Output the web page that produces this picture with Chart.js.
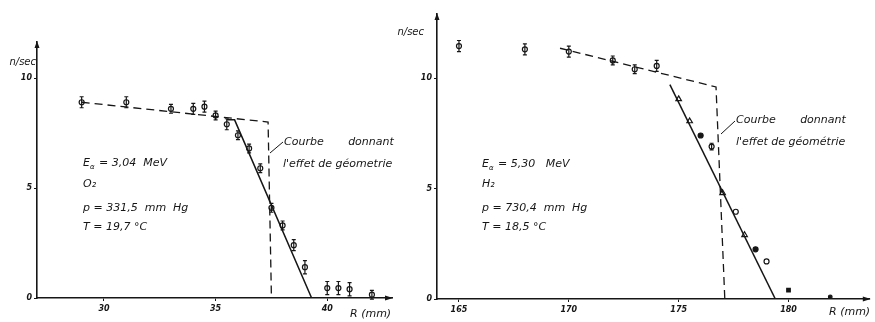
<!DOCTYPE html>
<html>
<head>
<meta charset="utf-8">
<script src="https://cdn.jsdelivr.net/npm/chart.js@4"></script>
<style>
  html, body { margin:0; padding:0; background:#fff; }
  #wrap { position:relative; width:875px; height:322px; background:#fff; }
  #wrap canvas { position:absolute; left:0; top:0; }
</style>
</head>
<body>
<div id="wrap">
  <canvas id="left" width="875" height="322"></canvas>
  <canvas id="right" width="875" height="322"></canvas>
</div>
<script>
// left panel : O2, 3,04 MeV
const leftX   = [29, 31, 33, 34, 34.5, 35, 35.5, 36, 36.5, 37, 37.5, 38, 38.5, 39, 40, 40.5, 41, 42];
const leftY   = [8.9, 8.9, 8.6, 8.6, 8.7, 8.3, 7.9, 7.4, 6.8, 5.9, 4.1, 3.3, 2.4, 1.4, 0.45, 0.45, 0.4, 0.15];
const leftErr = [0.25, 0.25, 0.2, 0.25, 0.25, 0.2, 0.25, 0.2, 0.2, 0.2, 0.2, 0.2, 0.25, 0.3, 0.3, 0.3, 0.3, 0.2];
const leftDashX = [29, 37.35, 37.5];
const leftDashY = [8.9, 8.0, 0];
const leftFitX = [35.5, 35.85, 39.3];
const leftFitY = [8.1, 8.1, 0];
const leftXTicks = [30, 35, 40];
const leftYTicks = [0, 5, 10];

// right panel : H2, 5,30 MeV
const rightErrX = [165, 168, 170, 172, 173, 174, 176.5];
const rightErrY = [11.45, 11.3, 11.2, 10.8, 10.4, 10.55, 6.9];
const rightErr  = [0.25, 0.25, 0.25, 0.2, 0.2, 0.25, 0.15];
const rightTriX = [175, 175.5, 177, 178];
const rightTriY = [9.05, 8.05, 4.8, 2.9];
const rightDotX = [176, 178.5];
const rightDotY = [7.4, 2.25];
const rightCircX = [177.6, 179];
const rightCircY = [3.95, 1.7];
const rightSqX = [180];
const rightSqY = [0.4];
const rightSmallX = [181.9];
const rightSmallY = [0.1];
const rightDashX = [169.6, 176.7, 177.1];
const rightDashY = [11.35, 9.6, 0];
const rightFitX = [174.6, 179.4];
const rightFitY = [9.7, 0];
const rightXTicks = [165, 170, 175, 180];
const rightYTicks = [0, 5, 10];

const ink = '#161616';
const pts = (xs, ys) => xs.map((x,i)=>({x:x, y:ys[i]}));

const errorBars = {
  id:'errorBars',
  afterDatasetsDraw(chart) {
    const ctx = chart.ctx, ys = chart.scales.y;
    chart.data.datasets.forEach((ds, di) => {
      if (!ds.err) return;
      const meta = chart.getDatasetMeta(di);
      ctx.save();
      ctx.strokeStyle = ink; ctx.lineWidth = 1.2;
      meta.data.forEach((p, i) => {
        const v = ds.data[i].y, e = ds.err[i];
        const top = ys.getPixelForValue(v+e), bot = ys.getPixelForValue(v-e);
        ctx.beginPath();
        ctx.moveTo(p.x, top); ctx.lineTo(p.x, bot);
        ctx.moveTo(p.x-2, top); ctx.lineTo(p.x+2, top);
        ctx.moveTo(p.x-2, bot); ctx.lineTo(p.x+2, bot);
        ctx.stroke();
      });
      ctx.restore();
    });
  }
};

const notes = {
  id:'notes',
  afterDraw(chart, args, opts) {
    const ctx = chart.ctx, a = chart.chartArea;
    ctx.save();
    ctx.fillStyle = ink; ctx.strokeStyle = ink; ctx.lineWidth = 1.3;
    // arrows on axes
    ctx.beginPath();
    ctx.moveTo(a.left-2.5, a.top+6); ctx.lineTo(a.left, a.top-1); ctx.lineTo(a.left+2.5, a.top+6); ctx.closePath();
    ctx.fill();
    ctx.beginPath();
    ctx.moveTo(a.right-7, a.bottom-2.5); ctx.lineTo(a.right+1, a.bottom); ctx.lineTo(a.right-7, a.bottom+2.5); ctx.closePath();
    ctx.fill();
    ctx.textBaseline = 'middle';
    (opts.lines || []).forEach(l => {
      ctx.font = 'italic ' + (l.size || 11) + 'px "DejaVu Sans"';
      ctx.textAlign = l.align || 'left';
      let x = l.x;
      ctx.fillText(l.text, x, l.y);
      if (l.sub) {
        const w = ctx.measureText(l.text).width;
        ctx.font = 'italic 7px "DejaVu Sans"';
        ctx.fillText(l.sub, x + w, l.y + 4);
        const ws = ctx.measureText(l.sub).width;
        ctx.font = 'italic ' + (l.size || 11) + 'px "DejaVu Sans"';
        ctx.fillText(l.rest, x + w + ws + 1, l.y);
      }
    });
    (opts.leaders || []).forEach(s => {
      ctx.lineWidth = 1;
      ctx.beginPath(); ctx.moveTo(s[0], s[1]); ctx.lineTo(s[2], s[3]); ctx.stroke();
    });
    ctx.restore();
  }
};

function axes(xmin, xmax, ymax, xTicks, yTicks, yWidth, xHeight) {
  const tickFont = { family:'DejaVu Sans', size:8, style:'italic', weight:'bold' };
  return {
    x: {
      type:'linear', min:xmin, max:xmax,
      afterBuildTicks: s => { s.ticks = xTicks.map(v=>({value:v})); },
      afterFit: s => { s.height = xHeight; },
      grid: { drawOnChartArea:false, tickLength:3, color:ink, lineWidth:1 },
      border: { color:ink, width:1.6 },
      ticks: { color:ink, font:tickFont, padding:3 }
    },
    y: {
      type:'linear', min:0, max:ymax,
      afterBuildTicks: s => { s.ticks = yTicks.map(v=>({value:v})); },
      afterFit: s => { s.width = yWidth; },
      grid: { drawOnChartArea:false, tickLength:3, color:ink, lineWidth:1 },
      border: { color:ink, width:1.6 },
      ticks: { color:ink, font:tickFont, padding:2 }
    }
  };
}

function marker(data, style, r, filled, extra) {
  return Object.assign({
    type:'scatter', data:data, pointStyle:style, pointRadius:r,
    pointBackgroundColor: filled ? ink : '#fff', pointBorderColor:ink, pointBorderWidth:1.2,
    showLine:false
  }, extra || {});
}
function line(data, dashed, w) {
  return { type:'line', data:data, borderColor:ink, borderWidth:w, borderDash: dashed ? [8,5] : [],
    pointRadius:0, fill:false, tension:0 };
}

const common = (scales, padding, lines, leaders) => ({
  responsive:false, animation:false,
  layout:{ padding:padding },
  scales:scales,
  plugins:{ legend:{display:false}, tooltip:{enabled:false}, notes:{ lines:lines, leaders:leaders } }
});

new Chart(document.getElementById('left'), {
  data: { datasets: [
    line(pts(leftDashX, leftDashY), true, 1.3),
    line(pts(leftFitX, leftFitY), false, 1.5),
    marker(pts(leftX, leftY), 'circle', 2.5, false, { err:leftErr })
  ]},
  options: common(axes(27, 42.9, 11.64, leftXTicks, leftYTicks, 37, 24),
    { left:0, top:42, right:483, bottom:0 },
    [
      { text:'n/sec', x:36, y:62, align:'right', size:10 },
      { text:'E', sub:'α', rest:' = 3,04  MeV', x:83, y:163, size:11 },
      { text:'O₂', x:83, y:184, size:11 },
      { text:'p = 331,5  mm  Hg', x:83, y:208, size:11 },
      { text:'T = 19,7 °C', x:83, y:227, size:11 },
      { text:'Courbe       donnant', x:284, y:142, size:11 },
      { text:"l'effet de géometrie", x:283, y:164, size:11 },
      { text:'R (mm)', x:350, y:314, size:11 }
    ],
    [[283, 142, 270, 153]]),
  plugins:[errorBars, notes]
});

new Chart(document.getElementById('right'), {
  data: { datasets: [
    line(pts(rightDashX, rightDashY), true, 1.3),
    line(pts(rightFitX, rightFitY), false, 1.5),
    marker(pts(rightErrX, rightErrY), 'circle', 2.5, false, { err:rightErr }),
    marker(pts(rightTriX, rightTriY), 'triangle', 3.2, false),
    marker(pts(rightDotX, rightDotY), 'circle', 2.5, true),
    marker(pts(rightCircX, rightCircY), 'circle', 2.5, false),
    marker(pts(rightSqX, rightSqY), 'rect', 2.5, true),
    marker(pts(rightSmallX, rightSmallY), 'circle', 1.8, true)
  ]},
  options: common(axes(164.0, 183.7, 12.9, rightXTicks, rightYTicks, 30, 23),
    { left:407, top:14, right:3, bottom:0 },
    [
      { text:'n/sec', x:424, y:32, align:'right', size:10 },
      { text:'E', sub:'α', rest:' = 5,30   MeV', x:482, y:164, size:11 },
      { text:'H₂', x:482, y:184, size:11 },
      { text:'p = 730,4  mm  Hg', x:482, y:208, size:11 },
      { text:'T = 18,5 °C', x:482, y:227, size:11 },
      { text:'Courbe       donnant', x:736, y:120, size:11 },
      { text:"l'effet de géométrie", x:736, y:142, size:11 },
      { text:'R (mm)', x:829, y:312, size:11 }
    ],
    [[735, 121, 721, 134]]),
  plugins:[errorBars, notes]
});
</script>
</body>
</html>
